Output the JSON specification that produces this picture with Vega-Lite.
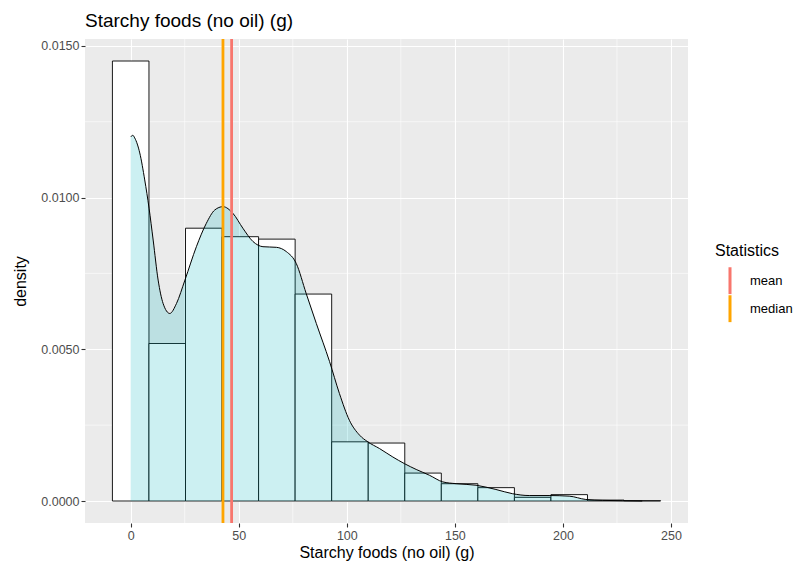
{
  "$schema": "https://vega.github.io/schema/vega-lite/v6.json",
  "width": 603,
  "height": 484,
  "autosize": {"type": "none"},
  "padding": {"left": 85, "top": 39, "right": 105, "bottom": 47},
  "background": "white",
  "title": {
    "text": "Starchy foods (no oil) (g)",
    "anchor": "start",
    "frame": "group",
    "font": "Liberation Sans",
    "fontSize": 19,
    "fontWeight": "normal",
    "color": "black",
    "baseline": "alphabetic",
    "offset": 12,
    "dy": 20
  },
  "config": {
    "view": {"fill": "#EBEBEB", "stroke": null},
    "font": "Liberation Sans",
    "axis": {
      "domain": false,
      "grid": true,
      "gridColor": "white",
      "gridWidth": 1.1,
      "tickColor": "#333333",
      "tickSize": 4,
      "tickWidth": 1.1,
      "labelColor": "#4D4D4D",
      "labelFontSize": 12.5,
      "labelFont": "Liberation Sans",
      "labelPadding": 2,
      "titleFont": "Liberation Sans",
      "titleFontSize": 16,
      "titleFontWeight": "normal",
      "titleColor": "black"
    }
  },
  "datasets": {
    "hist": [
      {"x0": -8.455, "x1": 8.455, "d": 0.0145},
      {"x0": 8.455, "x1": 25.365, "d": 0.00519},
      {"x0": 25.365, "x1": 42.275, "d": 0.00899},
      {"x0": 42.275, "x1": 59.185, "d": 0.00871},
      {"x0": 59.185, "x1": 76.095, "d": 0.00863},
      {"x0": 76.095, "x1": 93.005, "d": 0.00682},
      {"x0": 93.005, "x1": 109.915, "d": 0.00195},
      {"x0": 109.915, "x1": 126.825, "d": 0.00191},
      {"x0": 126.825, "x1": 143.735, "d": 0.00092},
      {"x0": 143.735, "x1": 160.645, "d": 0.00057},
      {"x0": 160.645, "x1": 177.555, "d": 0.00044},
      {"x0": 177.555, "x1": 194.465, "d": 0.00012},
      {"x0": 194.465, "x1": 211.375, "d": 0.00021},
      {"x0": 211.375, "x1": 228.285, "d": 0.00003},
      {"x0": 228.285, "x1": 245.195, "d": 0.00001}
    ],
    "dens": [
      {"x": 0, "d": 0.01200},
      {"x": 1.0, "d": 0.01205},
      {"x": 1.9, "d": 0.01196},
      {"x": 4.2, "d": 0.01147},
      {"x": 6.5, "d": 0.01058},
      {"x": 8.5, "d": 0.00965},
      {"x": 10.4, "d": 0.0086},
      {"x": 12.7, "d": 0.00728},
      {"x": 15.0, "d": 0.00651},
      {"x": 18.1, "d": 0.00618},
      {"x": 21.2, "d": 0.00651},
      {"x": 25.1, "d": 0.00728},
      {"x": 30.4, "d": 0.00838},
      {"x": 35.0, "d": 0.00915},
      {"x": 38.9, "d": 0.00959},
      {"x": 42.7, "d": 0.0097},
      {"x": 47.3, "d": 0.00948},
      {"x": 51.9, "d": 0.00899},
      {"x": 56.6, "d": 0.00855},
      {"x": 61.2, "d": 0.00838},
      {"x": 67.4, "d": 0.00836},
      {"x": 72.0, "d": 0.00822},
      {"x": 76.6, "d": 0.00783},
      {"x": 81.2, "d": 0.00684},
      {"x": 85.9, "d": 0.00585},
      {"x": 92.0, "d": 0.0046},
      {"x": 96.6, "d": 0.00354},
      {"x": 101.2, "d": 0.00266},
      {"x": 105.9, "d": 0.00217},
      {"x": 109.7, "d": 0.00195},
      {"x": 115.1, "d": 0.00173},
      {"x": 121.3, "d": 0.00145},
      {"x": 126.7, "d": 0.00123},
      {"x": 132.1, "d": 0.00104},
      {"x": 138.2, "d": 0.00085},
      {"x": 144.4, "d": 0.00063},
      {"x": 150.6, "d": 0.00057},
      {"x": 159.8, "d": 0.00052},
      {"x": 169.0, "d": 0.00038},
      {"x": 176.7, "d": 0.00024},
      {"x": 184.4, "d": 0.00018},
      {"x": 193.6, "d": 0.00018},
      {"x": 202.9, "d": 0.00016},
      {"x": 210.6, "d": 0.00005},
      {"x": 218.3, "d": 0.00002},
      {"x": 227.5, "d": 0.00001},
      {"x": 236.7, "d": 0}
    ],
    "stats": [
      {"stat": "mean", "value": 46.7},
      {"stat": "median", "value": 42.7}
    ],
    "minorX": [{"v": 25}, {"v": 75}, {"v": 125}, {"v": 175}, {"v": 225}],
    "minorY": [{"v": 0.0025}, {"v": 0.0075}, {"v": 0.0125}]
  },
  "layer": [
    {
      "data": {"name": "minorX"},
      "mark": {"type": "rule", "color": "white", "strokeWidth": 0.55},
      "encoding": {
        "x": {"field": "v", "type": "quantitative",
              "scale": {"domain": [-21.14, 257.88], "nice": false, "zero": false}}
      }
    },
    {
      "data": {"name": "minorY"},
      "mark": {"type": "rule", "color": "white", "strokeWidth": 0.55},
      "encoding": {
        "y": {"field": "v", "type": "quantitative",
              "scale": {"domain": [-0.000725, 0.015225], "nice": false, "zero": false}}
      }
    },
    {
      "data": {"name": "hist"},
      "mark": {"type": "rect", "fill": "white", "stroke": "black", "strokeWidth": 0.9},
      "encoding": {
        "x": {"field": "x0", "type": "quantitative",
              "scale": {"domain": [-21.14, 257.88], "nice": false, "zero": false},
              "axis": {"values": [0, 50, 100, 150, 200, 250], "title": "Starchy foods (no oil) (g)", "titlePadding": 3}},
        "x2": {"field": "x1"},
        "y": {"field": "d", "type": "quantitative",
              "scale": {"domain": [-0.000725, 0.015225], "nice": false, "zero": false},
              "axis": {"values": [0, 0.005, 0.01, 0.015], "format": ".4f", "title": "density", "titlePadding": 12}},
        "y2": {"datum": 0}
      }
    },
    {
      "data": {"name": "dens"},
      "mark": {"type": "area", "fill": "#00B4BE", "fillOpacity": 0.2, "interpolate": "monotone",
               "line": {"color": "black", "strokeWidth": 1}},
      "encoding": {
        "x": {"field": "x", "type": "quantitative"},
        "y": {"field": "d", "type": "quantitative"},
        "y2": {"datum": 0}
      }
    },
    {
      "data": {"name": "stats"},
      "mark": {"type": "rule", "strokeWidth": 2.8},
      "encoding": {
        "x": {"field": "value", "type": "quantitative"},
        "color": {
          "field": "stat", "type": "nominal",
          "scale": {"domain": ["mean", "median"], "range": ["#F8766D", "#FFA500"]},
          "legend": {
            "title": "Statistics",
            "orient": "none",
            "legendX": 630,
            "legendY": 204,
            "titleFont": "Liberation Sans",
            "titleFontSize": 16,
            "titleFontWeight": "normal",
            "titleColor": "black",
            "titlePadding": 8,
            "labelFont": "Liberation Sans",
            "labelFontSize": 13,
            "labelColor": "black",
            "labelOffset": 5,
            "symbolType": "M0,-1L0,1",
            "symbolSize": 729,
            "symbolStrokeWidth": 3,
            "clipHeight": 27.5,
            "rowPadding": 0
          }
        }
      }
    }
  ]
}
